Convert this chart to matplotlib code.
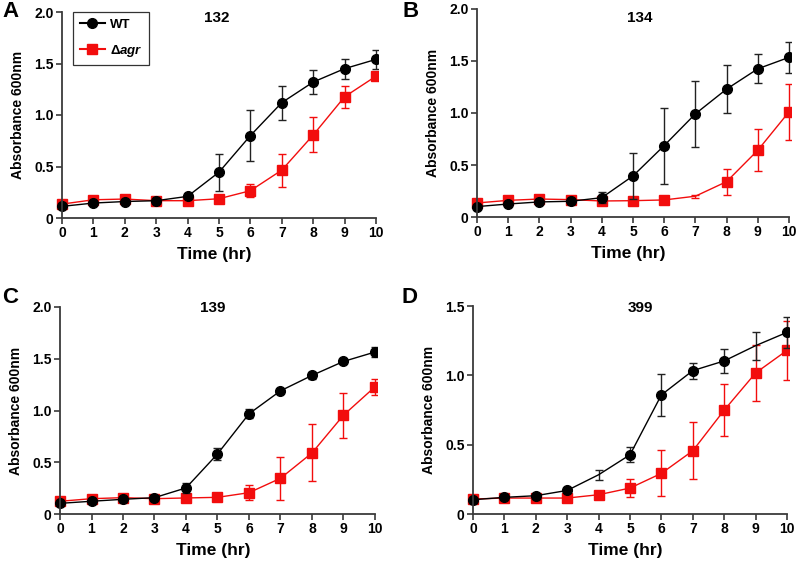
import matplotlib
matplotlib.use('Agg')
import matplotlib.pyplot as plt
import numpy as np

plt.rcParams['font.family'] = ['Liberation Sans', 'DejaVu Sans']
plt.rcParams['font.weight'] = 'bold'
plt.rcParams['mathtext.fontset'] = 'custom'
plt.rcParams['mathtext.rm'] = 'Liberation Sans:bold'
plt.rcParams['mathtext.it'] = 'Liberation Sans:italic:bold'

time = np.arange(11)

# strain 132
wt_132 = [0.113, 0.145, 0.16, 0.168, 0.21, 0.445, 0.80, 1.12, 1.32, 1.45, 1.54]
wt_132_err = [0.01, 0.01, 0.01, 0.01, 0.01, 0.18, 0.245, 0.165, 0.12, 0.097, 0.09]
agr_132 = [0.135, 0.177, 0.184, 0.168, 0.168, 0.187, 0.265, 0.465, 0.806, 1.177, 1.377]
agr_132_err = [0.01, 0.01, 0.01, 0.01, 0.01, 0.01, 0.065, 0.16, 0.17, 0.108, 0.015]

# strain 134
wt_134 = [0.10, 0.125, 0.145, 0.151, 0.186, 0.395, 0.687, 0.992, 1.23, 1.425, 1.535]
wt_134_err = [0.01, 0.01, 0.01, 0.01, 0.05, 0.225, 0.365, 0.32, 0.233, 0.14, 0.148]
agr_134 = [0.135, 0.16, 0.173, 0.167, 0.154, 0.157, 0.164, 0.20, 0.34, 0.642, 1.011]
agr_134_err = [0.01, 0.01, 0.01, 0.01, 0.01, 0.01, 0.01, 0.015, 0.124, 0.2, 0.272]

# strain 139
wt_139 = [0.103, 0.123, 0.142, 0.158, 0.252, 0.58, 0.968, 1.19, 1.339, 1.474, 1.565]
wt_139_err = [0.01, 0.01, 0.01, 0.01, 0.05, 0.06, 0.045, 0.01, 0.035, 0.01, 0.05]
agr_139 = [0.123, 0.148, 0.158, 0.148, 0.155, 0.161, 0.206, 0.345, 0.59, 0.955, 1.229]
agr_139_err = [0.01, 0.01, 0.01, 0.01, 0.01, 0.01, 0.07, 0.21, 0.275, 0.216, 0.08]

# strain 399
wt_399 = [0.103, 0.12, 0.132, 0.17, 0.283, 0.427, 0.859, 1.034, 1.104, 1.214, 1.31]
wt_399_err = [0.01, 0.01, 0.01, 0.01, 0.035, 0.053, 0.149, 0.058, 0.084, 0.1, 0.112]
agr_399 = [0.108, 0.115, 0.115, 0.115, 0.139, 0.187, 0.293, 0.456, 0.749, 1.017, 1.18]
agr_399_err = [0.01, 0.01, 0.01, 0.01, 0.01, 0.067, 0.165, 0.206, 0.19, 0.2, 0.215]

# time points drawn without a marker in the original
wt_nomark = {'132': [], '134': [], '139': [], '399': [4, 9]}
agr_nomark = {'132': [], '134': [7], '139': [], '399': []}

panels = [
    ('A', '132', wt_132, wt_132_err, agr_132, agr_132_err, 2.0),
    ('B', '134', wt_134, wt_134_err, agr_134, agr_134_err, 2.0),
    ('C', '139', wt_139, wt_139_err, agr_139, agr_139_err, 2.0),
    ('D', '399', wt_399, wt_399_err, agr_399, agr_399_err, 1.5),
]

# pixel anchors: x=0, x=10, y=0, y=top
anchors = [(62, 376, 218, 12), (477, 789, 217, 9), (60, 375, 514, 307), (473, 787, 514, 306)]
letter_pos = [(2, 1), (403, 1), (2, 287), (402, 287)]
title_pos = [(217, 18), (640, 18), (213, 308), (640, 308)]

W, H = 800, 565
XL, XR = -0.35, 10.05
fig = plt.figure(figsize=(8, 5.65), dpi=100)

red = '#f20d0d'
spine_c = '#3a3a3a'

for i, (letter, name, wt, wte, ag, age, ytop) in enumerate(panels):
    x0, x10, y0, yt = anchors[i]
    s = (x10 - x0) / 10.0
    left = x0 + XL * s
    right = x0 + XR * s
    ax = fig.add_axes([left / W, 1 - y0 / H, (right - left) / W, (y0 - yt) / H])
    ax.set_xlim(XL, XR)
    ax.set_ylim(0, ytop)

    ag = np.array(ag, dtype=float)
    wt = np.array(wt, dtype=float)
    ag_m = ag.copy()
    ag_m[agr_nomark[name]] = np.nan
    wt_m = wt.copy()
    wt_m[wt_nomark[name]] = np.nan

    ax.errorbar(time, ag, yerr=age, fmt='none', ecolor=red, elinewidth=1, capsize=3, capthick=1)
    ax.plot(time, ag, '-', color=red, lw=1)
    l2, = ax.plot(time, ag_m, 's', color=red, ms=6.5, mec=red)
    ax.errorbar(time, wt, yerr=wte, fmt='none', ecolor='#222222', elinewidth=1, capsize=3, capthick=1)
    ax.plot(time, wt, '-', color='black', lw=1)
    l1, = ax.plot(time, wt_m, 'o', color='black', ms=7)

    for sp in ['top', 'right']:
        ax.spines[sp].set_visible(False)
    ax.spines['left'].set_position(('data', 0))
    ax.spines['left'].set_bounds(0, ytop)
    ax.spines['bottom'].set_bounds(0, 10)
    for sp in ['left', 'bottom']:
        ax.spines[sp].set_color(spine_c)
        ax.spines[sp].set_linewidth(1.3)

    ax.set_xticks(time)
    ax.set_xticklabels([str(t) for t in time])
    if ytop == 2.0:
        yt_vals = [0, 0.5, 1.0, 1.5, 2.0]
    else:
        yt_vals = [0, 0.5, 1.0, 1.5]
    ax.set_yticks(yt_vals)
    ax.set_yticklabels(['0' if v == 0 else '%.1f' % v for v in yt_vals])
    ax.tick_params(direction='out', length=4, width=1.2, color=spine_c, labelsize=10, pad=2)
    ax.set_xlabel('Time (hr)', fontsize=12.5, fontweight='bold', labelpad=5)
    ax.set_ylabel('Absorbance 600nm', fontsize=10, fontweight='bold', labelpad=6.5)

    fig.text(title_pos[i][0] / W, 1 - title_pos[i][1] / H, name, ha='center', va='center',
             fontsize=11, fontweight='bold')
    fig.text(letter_pos[i][0] / W, 1 - letter_pos[i][1] / H, letter, fontsize=16,
             fontweight='bold', va='top', ha='left')

    if i == 0:
        leg = ax.legend([l1, l2], ['WT', r'$\Delta\mathit{agr}$'], loc='upper left',
                        bbox_to_anchor=(73 / W, 1 - 12 / H), bbox_transform=fig.transFigure,
                        fontsize=9.5, frameon=True, fancybox=False, edgecolor='black',
                        handlelength=1.9, handletextpad=0.4, labelspacing=0.9,
                        borderpad=0.5, borderaxespad=0)
        leg.get_frame().set_linewidth(0.9)
        leg.legend_handles[0].set_linestyle('-')
        leg.legend_handles[1].set_linestyle('-')

fig.savefig('out.png', dpi=100)
